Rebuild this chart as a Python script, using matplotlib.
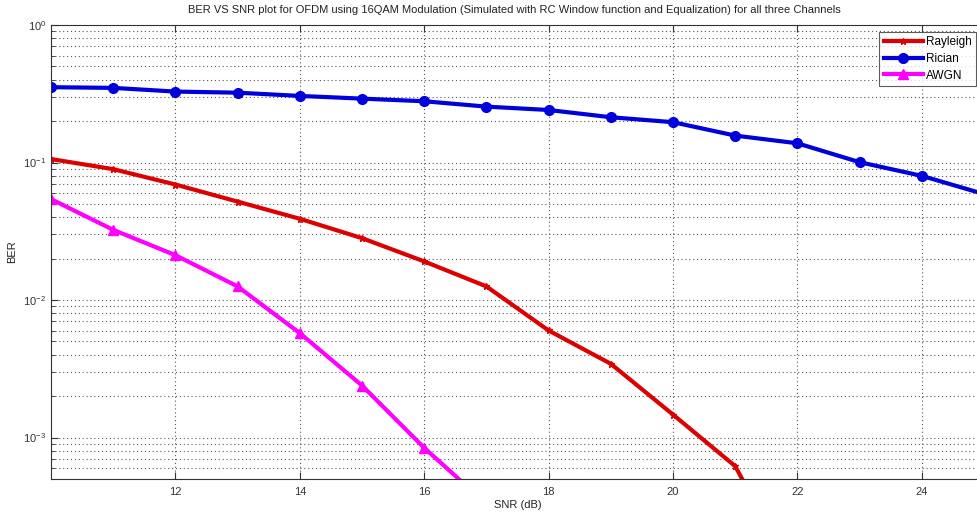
import numpy as np
import matplotlib
matplotlib.use("Agg")
import matplotlib.pyplot as plt
from matplotlib.ticker import LogLocator, NullFormatter

plt.rcParams['font.family'] = ['Liberation Sans', 'DejaVu Sans']
plt.rcParams['font.size'] = 8

# 数据
snr = [10, 11, 12, 13, 14, 15, 16, 17, 18, 19, 20, 21, 22, 23, 24, 25]
ber_rayleigh = [0.106, 0.0895, 0.0692, 0.052, 0.039, 0.0282, 0.0191, 0.01257,
                0.00601, 0.00344, 0.00147, 0.00062, 0.00009]
ber_rician = [0.353, 0.349, 0.328, 0.322, 0.305, 0.2915, 0.279, 0.255,
              0.241, 0.2135, 0.1965, 0.157, 0.138, 0.1006, 0.080, 0.059]
ber_awgn = [0.0542, 0.0324, 0.0212, 0.01257, 0.00575, 0.00239, 0.000842, 0.00033]
xticks = [12, 14, 16, 18, 20, 22, 24]

W, H = 977, 513
fig = plt.figure(figsize=(W / 100, H / 100), dpi=100)
ax = fig.add_axes([51 / W, 1 - 479 / H, (984 - 51) / W, (479 - 25) / H])

ax.semilogy(snr[:len(ber_rayleigh)], ber_rayleigh, color='#dd0000', lw=3,
            marker='*', ms=5, label='Rayleigh')
ax.semilogy(snr, ber_rician, color='#0000dd', lw=3,
            marker='o', ms=7, label='Rician')
ax.semilogy(snr[:len(ber_awgn)], ber_awgn, color='#ff00ff', lw=3,
            marker='^', ms=7, label='AWGN')

ax.set_xlim(10, 25)
ax.set_ylim(5e-4, 1)
ax.set_xticks(xticks)
ax.yaxis.set_major_locator(LogLocator(base=10, numticks=10))
ax.yaxis.set_minor_locator(LogLocator(base=10, subs=np.arange(2, 10), numticks=20))
ax.yaxis.set_minor_formatter(NullFormatter())

ax.tick_params(which='both', direction='in', top=True, right=True, labelsize=8,
               colors='#333333', labelcolor='#333333')
ax.tick_params(which='major', length=5)
ax.tick_params(which='minor', length=3)
ax.tick_params(axis='x', pad=6)

# MATLAB 风格的稀疏点状网格
ax.grid(True, which='major', ls=(0, (1, 2.5)), color='#555555', lw=0.8)
ax.grid(True, which='minor', axis='y', ls=(0, (1, 2.5)), color='#555555', lw=0.8)

for s in ax.spines.values():
    s.set_color('#333333')

ax.set_xlabel('SNR (dB)', fontsize=8, color='#222222', labelpad=2)
ax.set_ylabel('BER', fontsize=8, color='#222222', labelpad=4)
fig.text(514 / W, 1 - 10 / H,
         'BER VS SNR plot for OFDM using 16QAM Modulation (Simulated with RC Window '
         'function and Equalization) for all three Channels',
         ha='center', va='center', fontsize=8, color='#222222')

leg = ax.legend(loc='upper right', bbox_to_anchor=(976 / W, 1 - 32 / H),
                bbox_transform=fig.transFigure, fontsize=8.5, frameon=True,
                fancybox=False, edgecolor='#333333', handlelength=3.3,
                borderpad=0.35, labelspacing=0.4, handletextpad=0.3,
                borderaxespad=0)
leg.get_frame().set_linewidth(0.8)

fig.savefig('out.png', dpi=100)
